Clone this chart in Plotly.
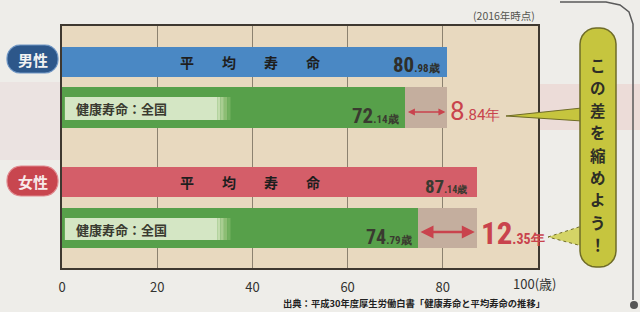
import math
import plotly.graph_objects as go

# ---------------- data ----------------
genders = ["男性", "女性"]
avg_life = [80.98, 87.14]          # 平均寿命
healthy_life = [72.14, 74.79]      # 健康寿命：全国
gap_years = [8.84, 12.35]          # 差
x_tick_vals = [0, 20, 40, 60, 80]
x_tick_text = ["0", "20", "40", "60", "80"]
last_tick_label = "100(歳)"
avg_label = "平　　均　　寿　　命"
healthy_label = "健康寿命：全国"
note_text = "(2016年時点)"
source_text = "出典：平成30年度厚生労働白書「健康寿命と平均寿命の推移」"
callout_text = "この差を縮めよう！"

# ---------------- layout constants (pixels) ----------------
W, H = 640, 312
PL, PR, PT, PB = 62, 538, 26, 268
FONT = "Noto Sans CJK JP"
NUMFONT = "Liberation Sans Narrow, Roboto Condensed, Arial Narrow, Roboto, sans-serif"

def xp(px):
    return (px - PL) / (PR - PL)

def yp(py):
    return (PB - py) / (PB - PT)

def path_paper(points, close=True):
    s = "M " + " L ".join(f"{xp(x):.5f},{yp(y):.5f}" for x, y in points)
    return s + (" Z" if close else "")

def rounded_rect(x0, y0, x1, y1, r):
    pts = []
    corners = [(x1 - r, y0 + r, -90, 0), (x1 - r, y1 - r, 0, 90),
               (x0 + r, y1 - r, 90, 180), (x0 + r, y0 + r, 180, 270)]
    for cx, cy, a0, a1 in corners:
        for k in range(7):
            a = math.radians(a0 + (a1 - a0) * k / 6)
            pts.append((cx + r * math.cos(a), cy + r * math.sin(a)))
    return path_paper(pts)

blue = "#4a88c4"
red = "#d45e69"
green = "#57a04a"
gapc = "#c4ae9e"
arrow_red = "#c9434d"
txt_dark = "#2e2e2a"

# y positions (axis units = pixels from plot top)
y_avg = [36, 156]
w_avg = [30, 30]
y_hl = [81.5, 202]
w_hl = [41, 40]
y_band = [82.5, 203]
w_band = [23, 22]
y_arrow = [86, 206]

fig = go.Figure()
fig.add_trace(go.Bar(y=y_avg, x=avg_life, orientation="h", width=w_avg,
                     marker=dict(color=[blue, red], line=dict(width=0)),
                     hoverinfo="skip", showlegend=False))
fig.add_trace(go.Bar(y=y_hl, x=healthy_life, orientation="h", width=w_hl,
                     marker=dict(color=green, line=dict(width=0)),
                     hoverinfo="skip", showlegend=False))
fig.add_trace(go.Bar(y=y_hl, x=[a - h for a, h in zip(avg_life, healthy_life)],
                     base=healthy_life, orientation="h", width=w_hl,
                     marker=dict(color=gapc, line=dict(width=0)),
                     hoverinfo="skip", showlegend=False))

shapes = []
annotations = []

# light label band with fade inside healthy bars
for yc, wb in zip(y_band, w_band):
    shapes.append(dict(type="rect", xref="x", yref="y", x0=0.6, x1=32.6,
                       y0=yc - wb / 2, y1=yc + wb / 2, fillcolor="#d4e6c4",
                       line=dict(width=0), layer="above"))
    fades = ["#c3dcae", "#a9cd91", "#8dbd74", "#73b05f"]
    for k, c in enumerate(fades):
        shapes.append(dict(type="rect", xref="x", yref="y", x0=32.6 + k * 0.7,
                           x1=33.3 + k * 0.7, y0=yc - wb / 2, y1=yc + wb / 2,
                           fillcolor=c, line=dict(width=0), layer="above"))
    annotations.append(dict(x=2.6, y=yc, xref="x", yref="y", text=f"<b>{healthy_label}</b>",
                            showarrow=False, xanchor="left", yanchor="middle",
                            font=dict(family=FONT, size=13, color="#3a3a30")))

# 平均寿命 labels
for yc in y_avg:
    annotations.append(dict(x=39.4, y=yc, xref="x", yref="y", text=f"<b>{avg_label}</b>",
                            showarrow=False, xanchor="center", yanchor="middle",
                            font=dict(family=FONT, size=14, color="#1e1e1e")))

def num_text(v, unit, big, small):
    ip, dp = f"{v:.2f}".split(".")
    return (f"<b><span style='font-size:{big}px'>{ip}</span>"
            f"<span style='font-size:{small}px'>.{dp}{unit}</span></b>")

# value labels
annotations.append(dict(x=avg_life[0], y=y_avg[0] + 3, xref="x", yref="y",
                        text=num_text(avg_life[0], "歳", 21, 11),
                        showarrow=False, xanchor="right", yanchor="middle", xshift=-5,
                        font=dict(family=NUMFONT, color=txt_dark)))
annotations.append(dict(x=healthy_life[0], y=y_hl[0] + 8, xref="x", yref="y",
                        text=num_text(healthy_life[0], "歳", 21, 11),
                        showarrow=False, xanchor="right", yanchor="middle", xshift=-4,
                        font=dict(family=NUMFONT, color="#3a3a30")))
annotations.append(dict(x=avg_life[1], y=y_avg[1] + 4, xref="x", yref="y",
                        text=num_text(avg_life[1], "歳", 19, 10),
                        showarrow=False, xanchor="right", yanchor="middle", xshift=-8,
                        font=dict(family=NUMFONT, color="#3a3a30")))
annotations.append(dict(x=healthy_life[1], y=y_hl[1] + 9, xref="x", yref="y",
                        text=num_text(healthy_life[1], "歳", 20, 11),
                        showarrow=False, xanchor="right", yanchor="middle", xshift=-4,
                        font=dict(family=NUMFONT, color="#3a3a30")))

# gap arrows
for i in range(2):
    annotations.append(dict(x=avg_life[i], y=y_arrow[i], ax=healthy_life[i], ay=y_arrow[i],
                            xref="x", yref="y", axref="x", ayref="y", text="",
                            showarrow=True, arrowhead=2, arrowside="end+start",
                            arrowsize=1.0,
                            arrowwidth=1.4 if i == 0 else 2.6,
                            arrowcolor=arrow_red, standoff=2, startstandoff=1))

# gap labels
def gap_text(v, big, small, bold):
    ip, dp = f"{v:.2f}".split(".")
    s = (f"<span style='font-size:{big}px'>{ip}</span>"
         f"<span style='font-size:{small}px'>.{dp}年</span>")
    return f"<b>{s}</b>" if bold else s

annotations.append(dict(x=avg_life[0], y=y_arrow[0] - 1, xref="x", yref="y",
                        text=gap_text(gap_years[0], 26, 15, False),
                        showarrow=False, xanchor="left", yanchor="middle", xshift=1,
                        font=dict(family="Roboto, sans-serif", color=arrow_red)))
annotations.append(dict(x=avg_life[1], y=y_arrow[1] + 1, xref="x", yref="y",
                        text=gap_text(gap_years[1], 31, 14, True),
                        showarrow=False, xanchor="left", yanchor="middle", xshift=2,
                        font=dict(family=NUMFONT, color=arrow_red)))

# background pink bleed bands outside plot
shapes.append(dict(type="path", xref="paper", yref="paper", layer="below",
                   path=path_paper([(538, 84), (640, 84), (640, 130), (538, 130)]),
                   fillcolor="#ecdcd8", line=dict(width=0)))
shapes.append(dict(type="path", xref="paper", yref="paper", layer="below",
                   path=path_paper([(0, 82), (60, 82), (60, 160), (0, 160)]),
                   fillcolor="#ebe3e1", line=dict(width=0)))

# gender badges
shapes.append(dict(type="path", xref="paper", yref="paper", layer="above",
                   path=rounded_rect(7, 45, 58, 73, 13), fillcolor="#2d578a",
                   line=dict(color="#6f96c4", width=1.2)))
shapes.append(dict(type="path", xref="paper", yref="paper", layer="above",
                   path=rounded_rect(7, 166, 58, 196, 14), fillcolor="#c8464f",
                   line=dict(color="#e08a8f", width=1.2)))
annotations.append(dict(x=xp(33), y=yp(59), xref="paper", yref="paper",
                        text=f"<b>{genders[0]}</b>", showarrow=False,
                        xanchor="center", yanchor="middle",
                        font=dict(family=FONT, size=15, color="#f2f2f2")))
annotations.append(dict(x=xp(33), y=yp(181), xref="paper", yref="paper",
                        text=f"<b>{genders[1]}</b>", showarrow=False,
                        xanchor="center", yanchor="middle",
                        font=dict(family=FONT, size=15, color="#f7eaea")))

# callout box + pointers
callout_fill = "#c6c53e"
callout_line = "#6f6c28"
shapes.append(dict(type="path", xref="paper", yref="paper", layer="above",
                   path=path_paper([(506, 116), (582, 108), (582, 121)]),
                   fillcolor=callout_fill, line=dict(color=callout_line, width=1)))
shapes.append(dict(type="path", xref="paper", yref="paper", layer="above",
                   path=path_paper([(548, 237), (582, 226), (582, 246)]),
                   fillcolor="#d4d466", line=dict(color=callout_line, width=1, dash="dot")))
shapes.append(dict(type="path", xref="paper", yref="paper", layer="above",
                   path=rounded_rect(580, 28, 616, 267, 16), fillcolor=callout_fill,
                   line=dict(color=callout_line, width=1.5)))
for k, ch in enumerate(callout_text):
    annotations.append(dict(x=xp(598), y=yp(65 + k * 22.4), xref="paper", yref="paper",
                            text=f"<b>{ch}</b>", showarrow=False,
                            xanchor="center", yanchor="middle",
                            font=dict(family=FONT, size=15.5, color="#2e2e26")))

# outer frame line on the right
shapes.append(dict(type="path", xref="paper", yref="paper", layer="above",
                   path=path_paper([(560, 2), (606, 2), (620, 5), (629, 12), (633, 24), (633, 300)], close=False),
                   line=dict(color="#5a5a5a", width=1.5)))
shapes.append(dict(type="circle", xref="paper", yref="paper", layer="above",
                   x0=xp(630), x1=xp(638), y0=yp(301), y1=yp(309),
                   fillcolor="#555555", line=dict(width=0)))

# texts around the plot
annotations.append(dict(x=xp(537), y=yp(16), xref="paper", yref="paper", text=note_text,
                        showarrow=False, xanchor="right", yanchor="middle",
                        font=dict(family=FONT, size=10.5, color="#555550")))
annotations.append(dict(x=100, y=yp(283), xref="x", yref="paper", text=last_tick_label,
                        showarrow=False, xanchor="left", yanchor="middle", xshift=-27,
                        font=dict(family=FONT, size=13, color="#333330")))
annotations.append(dict(x=xp(547), y=yp(303), xref="paper", yref="paper",
                        text=f"<b>{source_text}</b>",
                        showarrow=False, xanchor="right", yanchor="middle",
                        font=dict(family=FONT, size=9.3, color="#222222")))

fig.update_layout(
    width=W, height=H,
    margin=dict(l=PL, r=W - PR, t=PT, b=H - PB, pad=0),
    paper_bgcolor="#eeede9",
    plot_bgcolor="#e8d9bf",
    barmode="overlay",
    bargap=0,
    showlegend=False,
    shapes=shapes,
    annotations=annotations,
    xaxis=dict(range=[0, 100], tickvals=x_tick_vals, ticktext=x_tick_text,
               showgrid=True, gridcolor="#8c8270", gridwidth=1, zeroline=False,
               showline=True, linecolor="#3e3830", linewidth=2, mirror=True,
               ticks="", tickfont=dict(family=FONT, size=13, color="#333330"),
               ticklabelstandoff=6, fixedrange=True),
    yaxis=dict(range=[242, 0], showticklabels=False, showgrid=False, zeroline=False,
               showline=True, linecolor="#3e3830", linewidth=2, mirror=True,
               ticks="", fixedrange=True),
)

fig.write_html("out.html", config={"displayModeBar": False},
               post_script="document.body.style.margin='0';document.body.style.overflow='hidden';")
